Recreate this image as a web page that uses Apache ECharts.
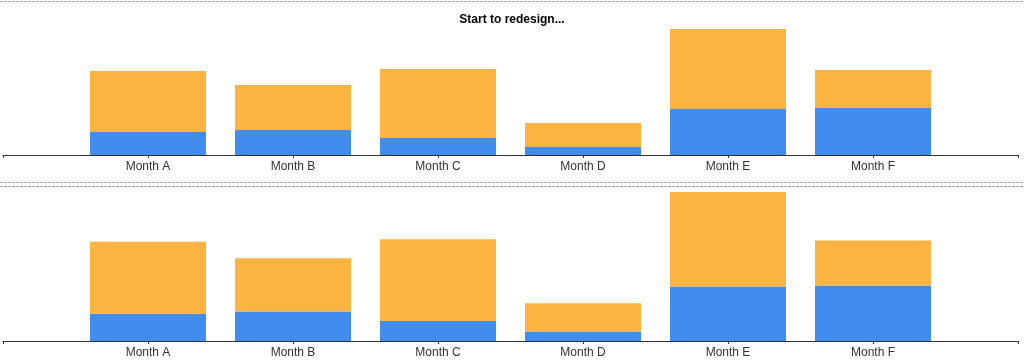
<!DOCTYPE html>
<html>
<head>
<meta charset="utf-8">
<script src="https://cdn.jsdelivr.net/npm/echarts@6/dist/echarts.min.js"></script>
<style>
html,body{margin:0;padding:0;background:#fff;}
#chart{width:1024px;height:362px;}
</style>
</head>
<body>
<div id="chart"></div>
<script>
var titleText = 'Start to redesign...';
var categories = ['Month A', 'Month B', 'Month C', 'Month D', 'Month E', 'Month F'];
var blueValues = [23, 25, 17, 8, 46, 47];
var orangeValues = [61, 45, 69, 24, 80, 38];

var axisCats = [''].concat(categories, ['']);
function pad(arr) { return [null].concat(arr, [null]); }
var maxTotal = Math.max.apply(null, blueValues.map(function (v, i) { return v + orangeValues[i]; }));

var FONT = '"Liberation Sans", Arial, sans-serif';
var BLUE = '#418ced';
var ORANGE = '#fbb442';

function xAxis(gridIndex) {
  return {
    type: 'category', gridIndex: gridIndex, data: axisCats, boundaryGap: false,
    axisLine: { lineStyle: { color: '#333', width: 1 } },
    axisTick: { show: true, length: 3, interval: 0, lineStyle: { color: '#333' } },
    axisLabel: { interval: 0, margin: 6, color: '#333', fontSize: 12, fontFamily: FONT },
    splitLine: { show: false }
  };
}
function yAxis(gridIndex) {
  return { type: 'value', gridIndex: gridIndex, min: 0, max: maxTotal, show: false };
}
function dotted(y) {
  return { type: 'line', shape: { x1: 0, y1: y, x2: 1024, y2: y },
    style: { stroke: '#aaa', lineWidth: 1, lineDash: [3, 1] }, silent: true };
}

var option = {
  animation: false,
  title: { text: titleText, left: 'center', top: 9,
    textStyle: { fontSize: 12, fontWeight: 'bold', color: '#000', fontFamily: FONT } },
  grid: [
    { left: 3, right: 6, top: 29, height: 126 },
    { left: 3, right: 6, top: 192, height: 149 }
  ],
  xAxis: [xAxis(0), xAxis(1)],
  yAxis: [yAxis(0), yAxis(1)],
  graphic: [dotted(1.5), dotted(182.5), dotted(186.5)],
  series: [
    { type: 'bar', name: 'blue', stack: 's1', xAxisIndex: 0, yAxisIndex: 0, barWidth: '80%',
      data: pad(blueValues), itemStyle: { color: BLUE } },
    { type: 'bar', name: 'orange', stack: 's1', xAxisIndex: 0, yAxisIndex: 0, barWidth: '80%',
      data: pad(orangeValues), itemStyle: { color: ORANGE } },
    { type: 'bar', name: 'blue2', stack: 's2', xAxisIndex: 1, yAxisIndex: 1, barWidth: '80%',
      data: pad(blueValues), itemStyle: { color: BLUE } },
    { type: 'bar', name: 'orange2', stack: 's2', xAxisIndex: 1, yAxisIndex: 1, barWidth: '80%',
      data: pad(orangeValues), itemStyle: { color: ORANGE } }
  ]
};
var chart = echarts.init(document.getElementById('chart'));
chart.setOption(option);
</script>
</body>
</html>
